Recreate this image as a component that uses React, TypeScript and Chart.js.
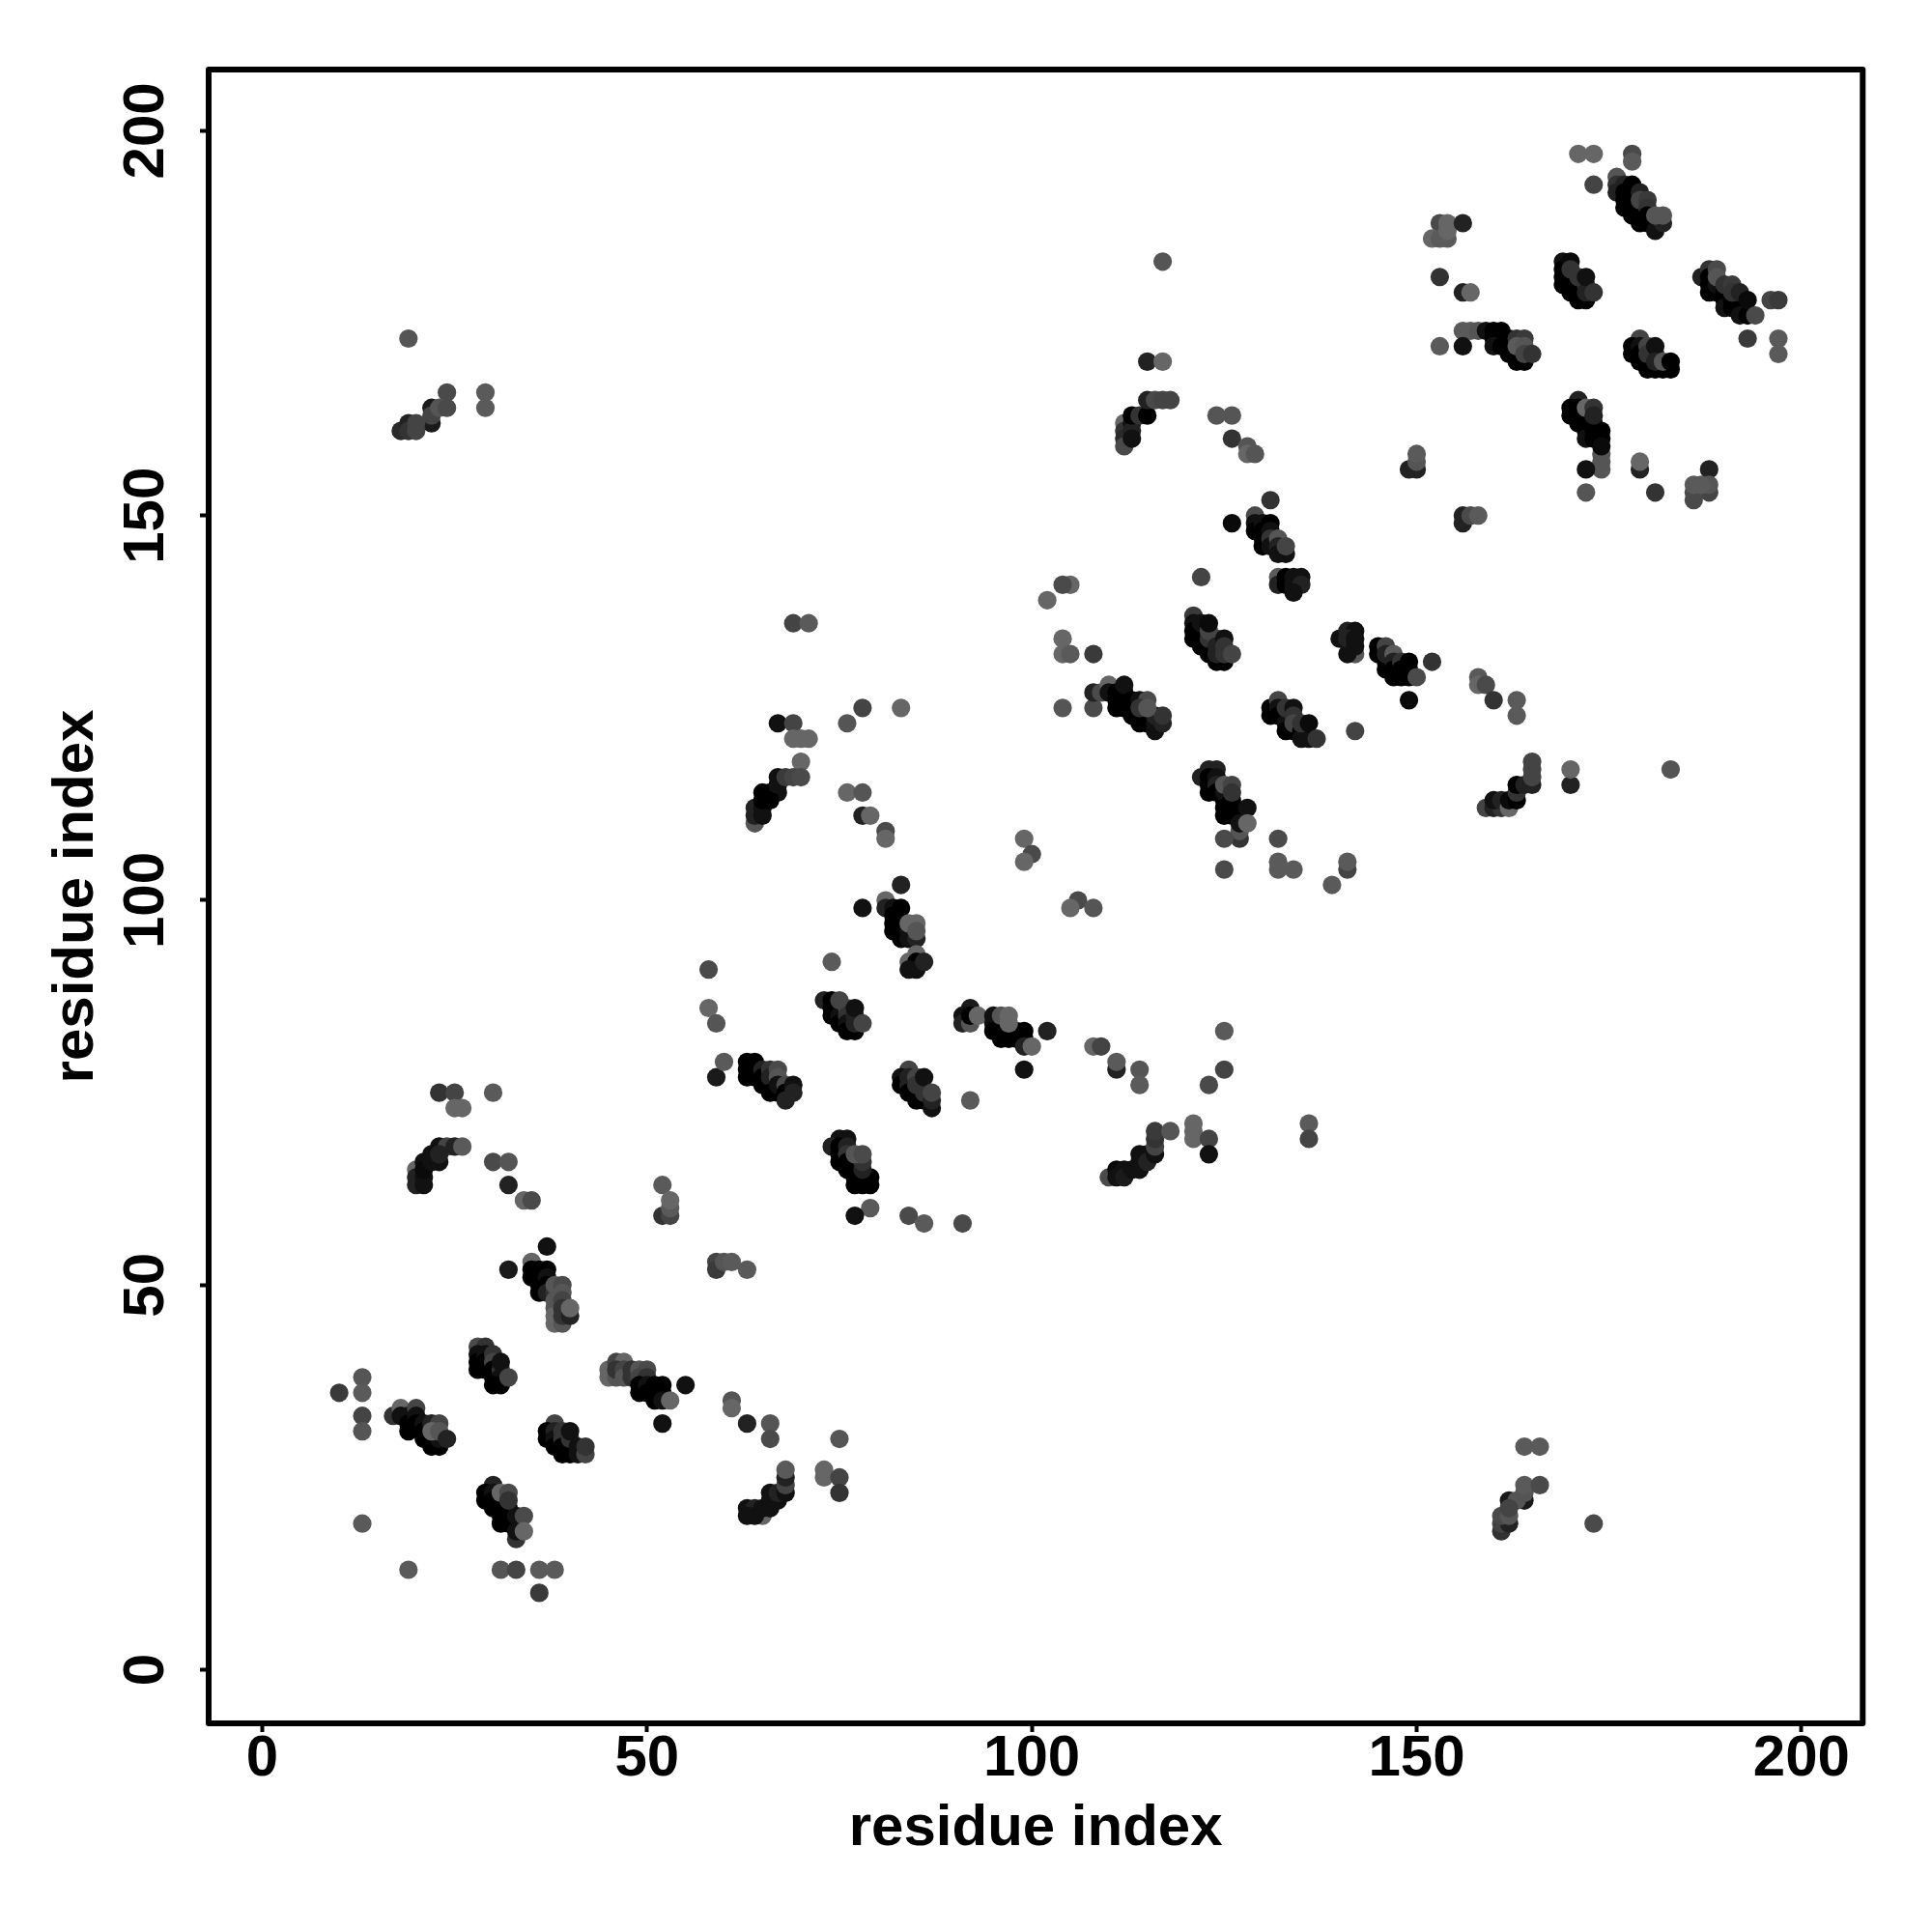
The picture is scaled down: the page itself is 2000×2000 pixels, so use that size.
import React, { useEffect, useRef } from "react";
import { Chart, registerables } from "chart.js";

Chart.register(...registerables);

type Contact = [number, number, number]; // residue i, residue j, shade (0 = strongest)

const tickValues = [0, 50, 100, 150, 200];
const axisTitle = "residue index";
const residueRange = [-6.96, 207.96];

const groupA: Contact[] = [[23,75,0x33],[25,75,0x44],[30,75,0x5a],[25,73,0x66],[26,73,0x66]];
const groupB: Contact[] = [[20,65,0x66],[20,64,0x22],[20,63,0x22],[21,64,0x11],[21,63,0x11],[21,66,0x11],[21,65,0x0a],[22,66,0x11],[23,66,0x11],[22,67,0x11],[23,68,0x11],[24,68,0x44],[25,68,0x22],[26,68,0x5a],[23,67,0x22]];
const groupC: Contact[] = [[30,66,0x4a],[32,66,0x55],[32,63,0x22],[34,61,0x66],[35,61,0x4a]];
const groupD: Contact[] = [[37,55,0x11],[32,52,0x1a],[35,53,0x66],[35,51,0x00],[35,52,0x00],[36,52,0x00],[37,52,0x00],[36,51,0x00],[36,50,0x00],[36,49,0x00],[37,51,0x11],[37,50,0x00],[37,49,0x22],[38,49,0x33],[38,50,0x55],[39,50,0x4a],[39,49,0x55],[38,48,0x55],[38,47,0x55],[39,48,0x44],[38,46,0x66],[38,45,0x66],[39,45,0x55],[39,46,0x33],[39,47,0x33],[40,46,0x22],[40,47,0x66]];
const groupE: Contact[] = [[28,42,0x4a],[29,42,0x33],[28,41,0x11],[28,40,0x00],[28,39,0x00],[29,41,0x11],[29,40,0x00],[29,39,0x00],[30,41,0x33],[30,40,0x44],[30,39,0x00],[30,38,0x00],[31,39,0x33],[31,38,0x11],[30,37,0x00],[31,37,0x00],[31,40,0x11],[32,38,0x44]];
const groupF: Contact[] = [[13,38,0x55],[10,36,0x3a],[13,36,0x5a],[13,33,0x44],[13,31,0x55]];
const groupG: Contact[] = [[17,33,0x33],[18,34,0x66],[18,33,0x11],[19,33,0x11],[19,32,0x00],[19,31,0x00],[20,34,0x44],[20,33,0x11],[20,32,0x00],[21,32,0x11],[21,31,0x00],[21,30,0x00],[22,32,0x22],[22,30,0x00],[22,29,0x00],[23,29,0x00],[23,30,0x11],[23,32,0x44],[22,31,0x66],[23,31,0x55],[24,30,0x22]];
const groupH: Contact[] = [[38,32,0x44],[37,31,0x00],[37,30,0x00],[38,31,0x22],[38,30,0x11],[38,29,0x00],[39,31,0x33],[39,30,0x33],[39,29,0x00],[39,28,0x00],[40,29,0x00],[40,28,0x00],[40,30,0x33],[40,31,0x11],[41,29,0x11],[41,28,0x11],[42,28,0x44],[42,29,0x33]];
const groupI: Contact[] = [[45,39,0x66],[45,38,0x66],[46,38,0x55],[46,40,0x44],[47,40,0x66],[46,39,0x33],[47,39,0x44],[47,38,0x55],[48,39,0x33],[48,38,0x33],[49,39,0x55],[50,39,0x4a],[49,38,0x44],[50,38,0x33],[49,37,0x00],[49,36,0x00],[50,37,0x11],[50,36,0x00],[51,37,0x00],[51,36,0x00],[51,35,0x00],[52,37,0x00],[52,36,0x00],[52,35,0x11],[53,35,0x66],[55,37,0x11],[52,32,0x11]];
const groupJ: Contact[] = [[61,35,0x55],[61,34,0x66],[63,32,0x22],[66,32,0x55],[66,30,0x4a],[75,30,0x55]];
const groupK: Contact[] = [[65,20,0x66],[63,21,0x11],[64,21,0x22],[63,20,0x11],[64,20,0x11],[65,21,0x11],[66,21,0x11],[66,22,0x11],[66,23,0x11],[67,22,0x11],[67,23,0x22],[68,23,0x11],[68,24,0x44],[68,25,0x22],[68,26,0x5a]];
const groupL: Contact[] = [[73,26,0x66],[73,25,0x66],[75,25,0x44],[75,23,0x33],[13,19,0x5a],[19,13,0x5a],[31,13,0x55],[33,13,0x44],[36,13,0x5a],[38,13,0x5a],[36,10,0x3a]];
const groupM: Contact[] = [[30,24,0x22],[29,23,0x00],[29,22,0x00],[30,23,0x11],[30,22,0x00],[30,21,0x00],[31,22,0x00],[31,21,0x00],[31,20,0x00],[31,19,0x00],[32,21,0x00],[32,20,0x00],[32,19,0x00],[33,19,0x00],[33,20,0x11],[33,17,0x33],[33,18,0x11],[31,23,0x66],[32,23,0x4a],[32,22,0x33],[34,20,0x4a],[34,18,0x66]];
const groupN: Contact[] = [[52,63,0x5a],[52,59,0x33],[53,59,0x44],[53,60,0x5a],[53,61,0x66],[59,53,0x44],[59,52,0x3a],[60,53,0x55],[61,53,0x5a],[63,52,0x5a],[59,77,0x1a],[60,79,0x5a],[58,91,0x4a],[74,92,0x5a],[58,86,0x66],[59,84,0x55]];
const groupO: Contact[] = [[63,79,0x00],[64,79,0x00],[63,78,0x00],[63,77,0x00],[64,78,0x00],[64,77,0x00],[65,78,0x22],[65,77,0x00],[65,76,0x00],[66,76,0x00],[66,78,0x33],[66,77,0x22],[67,78,0x4a],[67,77,0x55],[66,75,0x00],[67,75,0x00],[67,76,0x11],[68,76,0x4a],[68,75,0x00],[68,74,0x22],[69,76,0x11],[69,75,0x22]];
const groupP: Contact[] = [[73,87,0x22],[74,87,0x00],[74,86,0x00],[74,85,0x00],[75,85,0x11],[75,84,0x00],[75,87,0x44],[76,86,0x44],[76,85,0x33],[76,84,0x11],[76,83,0x00],[77,83,0x00],[77,85,0x22],[77,84,0x22],[77,86,0x11],[78,84,0x44]];
const groupQ: Contact[] = [[83,102,0x22],[78,99,0x11],[81,100,0x66],[81,99,0x22],[82,99,0x11],[83,99,0x00],[82,98,0x00],[82,97,0x00],[82,96,0x00],[83,97,0x00],[83,96,0x00],[83,95,0x00],[84,96,0x11],[84,95,0x11],[85,95,0x22],[84,97,0x66],[85,97,0x66],[85,96,0x55],[85,93,0x66],[84,92,0x66],[85,92,0x00],[84,91,0x11],[85,91,0x11],[86,92,0x22]];
const groupR: Contact[] = [[92,86,0x1a],[91,85,0x11],[91,84,0x22],[92,84,0x55],[92,85,0x00],[93,85,0x66],[95,85,0x11],[95,84,0x11],[95,83,0x00],[96,83,0x00],[96,82,0x00],[97,83,0x00],[97,82,0x00],[98,83,0x00],[98,82,0x00],[99,83,0x00],[99,82,0x00],[99,81,0x22],[100,81,0x66],[96,85,0x55],[97,85,0x66],[97,84,0x66],[102,83,0x22],[99,78,0x11]];
const groupS: Contact[] = [[108,81,0x66],[109,81,0x44],[111,78,0x22],[111,79,0x5a],[114,78,0x55],[114,76,0x5a],[123,76,0x4a],[125,78,0x44],[125,83,0x5a],[92,74,0x5a]];
const groupT: Contact[] = [[84,78,0x44],[83,77,0x11],[83,76,0x00],[84,77,0x22],[84,76,0x22],[84,75,0x00],[85,75,0x00],[85,74,0x00],[86,74,0x00],[85,77,0x44],[85,76,0x33],[86,75,0x33],[86,77,0x11],[87,73,0x11],[87,74,0x22],[87,75,0x44]];
const groupU: Contact[] = [[75,69,0x11],[76,69,0x11],[74,68,0x22],[75,68,0x00],[75,67,0x00],[75,66,0x00],[76,68,0x22],[76,67,0x33],[76,66,0x00],[76,65,0x00],[77,65,0x00],[77,64,0x00],[77,63,0x00],[78,63,0x00],[78,64,0x00],[79,64,0x00],[79,63,0x00],[77,66,0x00],[78,65,0x22],[78,66,0x33],[77,67,0x55],[78,67,0x4a],[79,60,0x5a],[77,59,0x11],[84,59,0x4a],[86,58,0x5a],[91,58,0x4a]];
const groupV: Contact[] = [[110,64,0x4a],[111,65,0x0a],[111,64,0x11],[112,65,0x11],[112,64,0x1a],[113,65,0x11],[114,65,0x11],[114,66,0x11],[114,67,0x11],[115,67,0x11],[115,66,0x22],[116,67,0x11],[116,68,0x44],[116,69,0x33],[116,70,0x3a],[118,70,0x55],[121,71,0x66],[121,70,0x66],[121,69,0x66],[123,69,0x44],[123,67,0x11],[136,71,0x5a],[136,69,0x44]];
const groupW: Contact[] = [[69,136,0x44],[71,136,0x5a],[67,123,0x11],[69,123,0x44],[69,121,0x66],[70,121,0x66],[71,121,0x66],[70,118,0x66],[64,110,0x55],[64,111,0x22],[64,112,0x22],[65,111,0x11],[65,112,0x11],[65,113,0x00],[65,114,0x00],[66,114,0x00],[67,114,0x11],[66,113,0x00],[67,115,0x11],[67,116,0x11],[68,116,0x3a],[69,116,0x44],[70,116,0x4a]];
const groupX: Contact[] = [[78,125,0x44],[76,123,0x55],[83,125,0x66],[76,114,0x66],[78,114,0x55],[78,111,0x22],[79,111,0x66],[81,109,0x4a],[81,108,0x66],[99,108,0x66],[100,106,0x4a],[99,105,0x66],[106,100,0x4a],[105,99,0x66],[108,99,0x55]];
const groupY: Contact[] = [[104,125,0x55],[108,125,0x4a],[108,127,0x22],[109,127,0x4a],[110,128,0x66],[110,127,0x11],[111,127,0x00],[111,126,0x00],[111,125,0x00],[112,127,0x00],[112,126,0x00],[112,125,0x00],[112,128,0x11],[113,126,0x00],[113,125,0x00],[113,124,0x00],[114,124,0x00],[114,123,0x00],[115,124,0x00],[115,123,0x00],[116,122,0x11],[116,123,0x11],[116,124,0x22],[117,123,0x22],[117,124,0x33],[114,126,0x11],[115,126,0x4a],[114,125,0x33],[115,125,0x55]];
const groupZ: Contact[] = [[105,141,0x66],[104,141,0x4a],[102,139,0x66],[104,134,0x66],[104,132,0x66],[105,132,0x5a],[108,132,0x3a],[122,142,0x44]];
const groupAA: Contact[] = [[121,137,0x3a],[121,136,0x11],[121,135,0x00],[121,134,0x00],[122,135,0x00],[122,134,0x00],[122,133,0x00],[123,133,0x00],[124,131,0x00],[125,131,0x00],[123,132,0x00],[122,136,0x11],[123,134,0x33],[123,135,0x44],[124,134,0x44],[124,133,0x22],[124,132,0x22],[123,136,0x0a],[125,134,0x11],[125,133,0x33],[125,132,0x33],[126,132,0x44]];
const groupAB: Contact[] = [[122,116,0x22],[123,117,0x22],[124,117,0x22],[123,116,0x00],[123,115,0x00],[123,114,0x00],[124,116,0x11],[124,115,0x22],[124,114,0x00],[125,113,0x00],[125,114,0x11],[125,112,0x00],[125,111,0x00],[126,111,0x00],[126,112,0x00],[126,113,0x00],[127,111,0x00],[125,115,0x55],[126,115,0x44],[126,114,0x33],[127,108,0x33],[127,109,0x55],[127,110,0x11],[128,112,0x11],[128,110,0x66],[125,108,0x4a],[132,108,0x4a],[132,105,0x5a],[132,104,0x5a],[134,104,0x5a],[125,104,0x4a],[141,104,0x44],[141,105,0x5a],[139,102,0x5a]];
const groupAC: Contact[] = [[131,125,0x00],[131,124,0x00],[132,126,0x44],[132,125,0x11],[132,124,0x00],[133,124,0x00],[133,123,0x11],[133,122,0x00],[133,125,0x33],[134,122,0x00],[134,125,0x11],[134,124,0x33],[134,123,0x44],[135,122,0x00],[135,121,0x11],[136,121,0x11],[135,123,0x33],[136,123,0x0a],[137,121,0x33],[142,122,0x44]];
const groupAD: Contact[] = [[131,152,0x33],[126,149,0x0a],[129,150,0x4a],[129,149,0x11],[129,148,0x00],[130,149,0x11],[130,148,0x00],[130,147,0x00],[130,146,0x00],[131,149,0x00],[131,148,0x11],[131,147,0x33],[131,146,0x11],[132,147,0x55],[132,146,0x22],[132,145,0x11],[133,145,0x11],[133,146,0x44],[132,142,0x5a],[132,141,0x22],[133,142,0x00],[133,141,0x00],[134,142,0x11],[135,142,0x11],[134,141,0x11],[135,141,0x22],[134,140,0x11]];
const groupAE: Contact[] = [[142,132,0x55],[141,132,0x11],[140,134,0x11],[141,135,0x22],[142,135,0x11],[141,134,0x22],[142,134,0x11],[142,133,0x11]];
const groupAF: Contact[] = [[145,133,0x00],[145,132,0x00],[146,133,0x44],[146,131,0x00],[146,130,0x00],[146,132,0x22],[147,132,0x5a],[147,131,0x22],[147,130,0x00],[147,129,0x00],[148,131,0x33],[148,130,0x00],[148,129,0x00],[149,129,0x00],[149,130,0x00],[149,131,0x00],[150,129,0x4a],[152,131,0x33],[149,126,0x0a],[158,129,0x5a],[158,128,0x66],[159,128,0x4a],[160,126,0x33],[163,126,0x5a],[163,124,0x5a]];
const groupAG: Contact[] = [[159,112,0x44],[160,112,0x22],[161,112,0x33],[160,113,0x11],[161,113,0x22],[162,112,0x66],[162,113,0x0a],[163,113,0x00],[163,114,0x33],[163,115,0x00],[164,115,0x22],[165,115,0x22],[165,116,0x44],[165,117,0x44],[165,118,0x44],[170,115,0x22],[170,117,0x66],[183,117,0x55]];
const groupAH: Contact[] = [[117,183,0x55],[115,170,0x22],[117,170,0x66],[112,162,0x66],[112,161,0x33],[112,160,0x2a],[112,159,0x4a],[113,162,0x11],[113,161,0x22],[113,160,0x11],[113,163,0x00],[114,163,0x33],[115,163,0x00],[115,165,0x22],[116,165,0x4a],[117,165,0x44],[118,165,0x44],[124,163,0x55],[126,163,0x55],[126,160,0x33],[128,159,0x55],[128,158,0x66],[129,158,0x55]];
const groupAI: Contact[] = [[149,156,0x22],[150,156,0x22],[150,157,0x55],[150,158,0x5a],[156,150,0x22],[156,149,0x22],[157,150,0x4a],[158,150,0x5a]];
const groupAJ: Contact[] = [[153,188,0x4a],[152,186,0x66],[153,186,0x5a],[154,186,0x5a],[154,187,0x66],[154,188,0x66],[156,188,0x22],[153,181,0x33],[156,179,0x22],[157,179,0x66],[156,174,0x5a],[157,174,0x5a],[158,174,0x55],[153,172,0x5a],[156,172,0x11]];
const groupAK: Contact[] = [[159,174,0x11],[160,174,0x00],[161,174,0x00],[160,173,0x00],[161,173,0x00],[160,172,0x11],[161,172,0x00],[162,172,0x00],[162,173,0x00],[162,171,0x00],[163,171,0x00],[163,170,0x00],[164,170,0x00],[163,173,0x33],[164,173,0x3a],[163,172,0x5a],[164,172,0x55],[164,171,0x44],[165,171,0x33]];
const groupAL: Contact[] = [[169,183,0x11],[169,182,0x00],[169,181,0x00],[169,180,0x00],[170,180,0x00],[170,179,0x00],[171,180,0x00],[171,179,0x00],[171,178,0x00],[172,178,0x00],[170,183,0x0a],[170,182,0x33],[171,181,0x33],[172,180,0x33],[172,179,0x22],[172,181,0x11],[173,179,0x33]];
const groupAM: Contact[] = [[171,197,0x66],[173,197,0x66],[178,197,0x4a],[178,196,0x5a],[173,193,0x44],[176,194,0x55],[176,193,0x33],[176,192,0x22],[177,193,0x22],[177,192,0x00],[177,191,0x00],[177,190,0x00],[178,192,0x00],[178,191,0x00],[178,190,0x00],[178,189,0x00],[179,189,0x00],[179,188,0x00],[179,190,0x00],[178,193,0x00],[179,192,0x22],[179,191,0x44],[180,191,0x3a],[180,190,0x33],[180,189,0x00],[180,188,0x00],[181,188,0x00],[181,187,0x11],[182,188,0x22],[181,189,0x55],[182,189,0x55]];
const groupAN: Contact[] = [[187,181,0x22],[188,182,0x33],[188,181,0x00],[188,180,0x00],[188,179,0x00],[189,179,0x00],[189,180,0x11],[190,179,0x00],[190,178,0x00],[190,177,0x11],[191,178,0x00],[191,177,0x00],[192,177,0x00],[192,176,0x11],[193,176,0x00],[189,182,0x4a],[189,181,0x55],[190,180,0x33],[191,180,0x3a],[191,179,0x33],[192,179,0x22],[193,178,0x0a],[194,176,0x4a],[196,178,0x44],[197,178,0x3a],[193,173,0x3a],[197,173,0x5a],[197,171,0x5a]];
const groupAO: Contact[] = [[179,173,0x44],[178,172,0x00],[178,171,0x00],[179,172,0x11],[179,171,0x00],[179,170,0x00],[180,170,0x00],[180,169,0x00],[181,169,0x00],[182,169,0x00],[183,169,0x00],[180,172,0x44],[180,171,0x33],[181,171,0x33],[181,172,0x11],[181,170,0x22],[182,170,0x55],[183,170,0x00]];
const groupAP: Contact[] = [[171,165,0x22],[170,164,0x00],[170,163,0x00],[171,164,0x00],[171,163,0x00],[171,162,0x00],[172,163,0x00],[172,162,0x00],[172,161,0x00],[172,160,0x11],[173,162,0x00],[173,161,0x00],[173,160,0x00],[174,161,0x00],[174,160,0x00],[172,164,0x66],[173,164,0x33],[173,163,0x22],[174,156,0x55],[174,157,0x55],[174,158,0x55],[174,159,0x0a],[172,156,0x11],[172,153,0x55],[179,156,0x22],[179,157,0x66],[181,153,0x33],[188,156,0x22],[188,153,0x44],[188,154,0x55],[186,152,0x4a],[186,153,0x4a],[186,154,0x5a],[187,154,0x5a]];
const groupAQ: Contact[] = [[164,29,0x5a],[166,29,0x5a],[162,22,0x1a],[164,22,0x1a],[163,22,0x55],[164,23,0x55],[164,24,0x5a],[166,24,0x4a],[161,18,0x33],[161,19,0x44],[162,19,0x22],[161,20,0x4a],[162,20,0x55],[162,21,0x44],[173,19,0x4a]];
const groupAR: Contact[] = [[19,173,0x55],[29,166,0x5a],[29,164,0x5a],[24,166,0x4a],[22,164,0x1a],[22,162,0x1a],[22,163,0x44],[23,164,0x55],[24,164,0x4a],[18,161,0x2a],[19,162,0x22],[19,161,0x33],[20,162,0x44],[20,161,0x44]];

const contacts: Contact[] = [
  groupA, groupB, groupC, groupD, groupE, groupF, groupG, groupH, groupI, groupJ, groupK, groupL, groupM, groupN,
  groupO, groupP, groupQ, groupR, groupS, groupT, groupU, groupV, groupW, groupX, groupY, groupZ, groupAA, groupAB,
  groupAC, groupAD, groupAE, groupAF, groupAG, groupAH, groupAI, groupAJ, groupAK, groupAL, groupAM, groupAN, groupAO,
  groupAP, groupAQ, groupAR,
].flat();

const FONT = "'Liberation Sans', Arial, sans-serif";

const frame = {
  id: "frame",
  afterDatasetsDraw(chart: Chart) {
    const { ctx, chartArea: a } = chart;
    ctx.save();
    ctx.strokeStyle = "#000";
    ctx.lineWidth = 6;
    ctx.lineJoin = "round";
    ctx.strokeRect(a.left, a.top, a.right - a.left, a.bottom - a.top);
    ctx.restore();
  },
};

export default function App() {
  const ref = useRef<HTMLCanvasElement>(null);
  useEffect(() => {
    const setTicks = (scale: any) => {
      scale.ticks = tickValues.map((value) => ({ value }));
    };
    const grid = {
      drawOnChartArea: false,
      drawTicks: true,
      tickLength: 9,
      tickWidth: 4,
      tickColor: "#000",
    };
    const chart = new Chart(ref.current!, {
      type: "scatter",
      data: {
        datasets: [
          {
            data: contacts.map(([x, y]) => ({ x, y })),
            pointRadius: 9.6,
            pointBorderWidth: 0,
            pointBackgroundColor: contacts.map(([, , s]) => `rgb(${s},${s},${s})`),
          },
        ],
      },
      options: {
        responsive: false,
        animation: false,
        devicePixelRatio: 1,
        layout: { padding: { left: 0, top: 72, right: 71.7, bottom: 0 } },
        plugins: { legend: { display: false }, tooltip: { enabled: false } },
        scales: {
          x: {
            type: "linear",
            min: residueRange[0],
            max: residueRange[1],
            afterBuildTicks: setTicks,
            afterFit: (s: any) => { s.height = 216; },
            grid,
            border: { display: false },
            ticks: {
              color: "#000",
              padding: -8,
              maxRotation: 0,
              autoSkip: false,
              font: { family: FONT, size: 60, weight: "bold" },
            },
            title: {
              display: true,
              text: axisTitle,
              color: "#000",
              padding: { top: 0, bottom: 71 },
              font: { family: FONT, size: 60, weight: "bold" },
            },
          },
          y: {
            type: "linear",
            min: residueRange[0],
            max: residueRange[1],
            afterBuildTicks: setTicks,
            afterFit: (s: any) => { s.width = 216; },
            grid,
            border: { display: false },
            ticks: {
              color: "#000",
              padding: 4,
              minRotation: 90,
              maxRotation: 90,
              crossAlign: "center",
              autoSkip: false,
              font: { family: FONT, size: 60, weight: "bold" },
            },
            title: {
              display: true,
              text: axisTitle,
              color: "#000",
              padding: { top: 43, bottom: 0 },
              font: { family: FONT, size: 60, weight: "bold" },
            },
          },
        },
      },
      plugins: [frame],
    } as any);
    return () => chart.destroy();
  }, []);
  return (
    <canvas
      ref={ref}
      width={2000}
      height={2000}
      style={{ position: "absolute", left: 0, top: 0, width: 2000, height: 2000, background: "#fff" }}
    />
  );
}
